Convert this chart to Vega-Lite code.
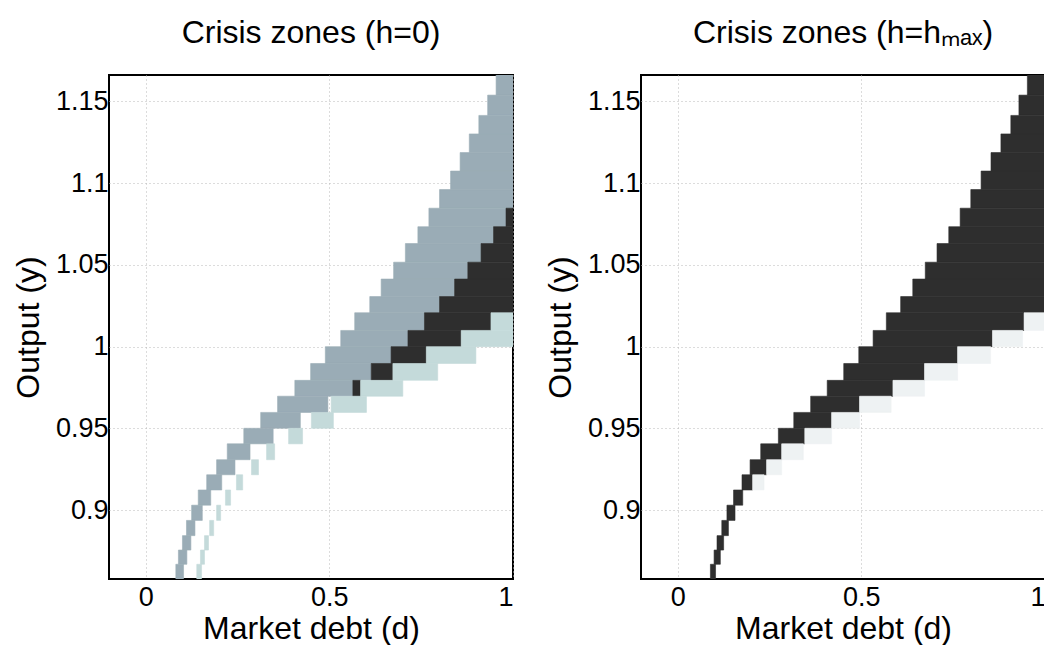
{
  "$schema": "https://vega.github.io/schema/vega-lite/v6.json",
  "background": "white",
  "padding": {"left": 11, "top": 16, "right": 0, "bottom": 0},
  "bounds": "flush",
  "spacing": 128,
  "config": {
    "font": "Liberation Sans",
    "view": {"stroke": "black", "strokeWidth": 2},
    "axis": {"grid": true, "gridColor": "#b8b8b8", "gridDash": [1, 3], "gridWidth": 1, "domain": false, "ticks": false, "labelFontSize": 27, "titleFontSize": 32, "labelColor": "black", "titleColor": "black", "titleFontWeight": "normal", "labelFont": "Liberation Sans", "titleFont": "Liberation Sans"},
    "title": {"fontSize": 32, "fontWeight": "normal", "font": "Liberation Sans", "color": "black", "offset": 25}
  },
  "datasets": {
    "h0": [
      {"z": "gray", "d0": 0.954, "d1": 1, "y0": 1.1537, "y1": 1.17},
      {"z": "gray", "d0": 0.931, "d1": 1, "y0": 1.1413, "y1": 1.1537},
      {"z": "gray", "d0": 0.907, "d1": 1, "y0": 1.13, "y1": 1.1413},
      {"z": "gray", "d0": 0.881, "d1": 1, "y0": 1.1186, "y1": 1.13},
      {"z": "gray", "d0": 0.856, "d1": 1, "y0": 1.1073, "y1": 1.1186},
      {"z": "gray", "d0": 0.83, "d1": 1, "y0": 1.096, "y1": 1.1073},
      {"z": "gray", "d0": 0.8, "d1": 1, "y0": 1.0846, "y1": 1.096},
      {"z": "gray", "d0": 0.771, "d1": 0.981, "y0": 1.0733, "y1": 1.0846},
      {"z": "black", "d0": 0.981, "d1": 1, "y0": 1.0733, "y1": 1.0846},
      {"z": "gray", "d0": 0.741, "d1": 0.947, "y0": 1.063, "y1": 1.0733},
      {"z": "black", "d0": 0.947, "d1": 1, "y0": 1.063, "y1": 1.0733},
      {"z": "gray", "d0": 0.707, "d1": 0.913, "y0": 1.0516, "y1": 1.063},
      {"z": "black", "d0": 0.913, "d1": 1, "y0": 1.0516, "y1": 1.063},
      {"z": "gray", "d0": 0.675, "d1": 0.877, "y0": 1.0413, "y1": 1.0516},
      {"z": "black", "d0": 0.877, "d1": 1, "y0": 1.0413, "y1": 1.0516},
      {"z": "gray", "d0": 0.641, "d1": 0.841, "y0": 1.0306, "y1": 1.0413},
      {"z": "black", "d0": 0.841, "d1": 1, "y0": 1.0306, "y1": 1.0413},
      {"z": "gray", "d0": 0.61, "d1": 0.8, "y0": 1.0207, "y1": 1.0306},
      {"z": "black", "d0": 0.8, "d1": 1, "y0": 1.0207, "y1": 1.0306},
      {"z": "gray", "d0": 0.569, "d1": 0.759, "y0": 1.0099, "y1": 1.0207},
      {"z": "black", "d0": 0.759, "d1": 0.94, "y0": 1.0099, "y1": 1.0207},
      {"z": "teal", "d0": 0.94, "d1": 1, "y0": 1.0099, "y1": 1.0207},
      {"z": "gray", "d0": 0.531, "d1": 0.714, "y0": 1.0, "y1": 1.0099},
      {"z": "black", "d0": 0.714, "d1": 0.859, "y0": 1.0, "y1": 1.0099},
      {"z": "teal", "d0": 0.859, "d1": 1, "y0": 1.0, "y1": 1.0099},
      {"z": "gray", "d0": 0.489, "d1": 0.668, "y0": 0.9897, "y1": 1.0},
      {"z": "black", "d0": 0.668, "d1": 0.764, "y0": 0.9897, "y1": 1.0},
      {"z": "teal", "d0": 0.764, "d1": 0.899, "y0": 0.9897, "y1": 1.0},
      {"z": "gray", "d0": 0.449, "d1": 0.614, "y0": 0.9794, "y1": 0.9897},
      {"z": "black", "d0": 0.614, "d1": 0.673, "y0": 0.9794, "y1": 0.9897},
      {"z": "teal", "d0": 0.673, "d1": 0.795, "y0": 0.9794, "y1": 0.9897},
      {"z": "gray", "d0": 0.406, "d1": 0.564, "y0": 0.9697, "y1": 0.9794},
      {"z": "black", "d0": 0.564, "d1": 0.585, "y0": 0.9697, "y1": 0.9794},
      {"z": "teal", "d0": 0.585, "d1": 0.7, "y0": 0.9697, "y1": 0.9794},
      {"z": "gray", "d0": 0.359, "d1": 0.496, "y0": 0.9598, "y1": 0.9697},
      {"z": "teal", "d0": 0.505, "d1": 0.601, "y0": 0.9598, "y1": 0.9697},
      {"z": "gray", "d0": 0.313, "d1": 0.421, "y0": 0.9501, "y1": 0.9598},
      {"z": "teal", "d0": 0.451, "d1": 0.511, "y0": 0.9501, "y1": 0.9598},
      {"z": "gray", "d0": 0.267, "d1": 0.347, "y0": 0.9406, "y1": 0.9501},
      {"z": "teal", "d0": 0.389, "d1": 0.427, "y0": 0.9406, "y1": 0.9501},
      {"z": "gray", "d0": 0.222, "d1": 0.284, "y0": 0.9309, "y1": 0.9406},
      {"z": "teal", "d0": 0.329, "d1": 0.351, "y0": 0.9309, "y1": 0.9406},
      {"z": "gray", "d0": 0.193, "d1": 0.243, "y0": 0.9217, "y1": 0.9309},
      {"z": "teal", "d0": 0.288, "d1": 0.307, "y0": 0.9217, "y1": 0.9309},
      {"z": "gray", "d0": 0.166, "d1": 0.207, "y0": 0.9124, "y1": 0.9217},
      {"z": "teal", "d0": 0.247, "d1": 0.264, "y0": 0.9124, "y1": 0.9217},
      {"z": "gray", "d0": 0.143, "d1": 0.177, "y0": 0.9031, "y1": 0.9124},
      {"z": "teal", "d0": 0.217, "d1": 0.231, "y0": 0.9031, "y1": 0.9124},
      {"z": "gray", "d0": 0.125, "d1": 0.154, "y0": 0.8938, "y1": 0.9031},
      {"z": "teal", "d0": 0.193, "d1": 0.204, "y0": 0.8938, "y1": 0.9031},
      {"z": "gray", "d0": 0.111, "d1": 0.134, "y0": 0.8845, "y1": 0.8938},
      {"z": "teal", "d0": 0.174, "d1": 0.185, "y0": 0.8845, "y1": 0.8938},
      {"z": "gray", "d0": 0.1, "d1": 0.123, "y0": 0.8757, "y1": 0.8845},
      {"z": "teal", "d0": 0.16, "d1": 0.171, "y0": 0.8757, "y1": 0.8845},
      {"z": "gray", "d0": 0.089, "d1": 0.112, "y0": 0.867, "y1": 0.8757},
      {"z": "teal", "d0": 0.149, "d1": 0.16, "y0": 0.867, "y1": 0.8757},
      {"z": "gray", "d0": 0.082, "d1": 0.103, "y0": 0.855, "y1": 0.867},
      {"z": "teal", "d0": 0.139, "d1": 0.152, "y0": 0.855, "y1": 0.867}
    ],
    "hmax": [
      {"z": "black", "d0": 0.952, "d1": 1, "y0": 1.1537, "y1": 1.17},
      {"z": "black", "d0": 0.929, "d1": 1, "y0": 1.1413, "y1": 1.1537},
      {"z": "black", "d0": 0.907, "d1": 1, "y0": 1.13, "y1": 1.1413},
      {"z": "black", "d0": 0.88, "d1": 1, "y0": 1.1186, "y1": 1.13},
      {"z": "black", "d0": 0.853, "d1": 1, "y0": 1.1073, "y1": 1.1186},
      {"z": "black", "d0": 0.826, "d1": 1, "y0": 1.096, "y1": 1.1073},
      {"z": "black", "d0": 0.798, "d1": 1, "y0": 1.0846, "y1": 1.096},
      {"z": "black", "d0": 0.769, "d1": 1, "y0": 1.0733, "y1": 1.0846},
      {"z": "black", "d0": 0.738, "d1": 1, "y0": 1.063, "y1": 1.0733},
      {"z": "black", "d0": 0.706, "d1": 1, "y0": 1.0516, "y1": 1.063},
      {"z": "black", "d0": 0.674, "d1": 1, "y0": 1.0413, "y1": 1.0516},
      {"z": "black", "d0": 0.64, "d1": 1, "y0": 1.0306, "y1": 1.0413},
      {"z": "black", "d0": 0.607, "d1": 1, "y0": 1.0207, "y1": 1.0306},
      {"z": "black", "d0": 0.568, "d1": 0.943, "y0": 1.0099, "y1": 1.0207},
      {"z": "faint", "d0": 0.943, "d1": 1, "y0": 1.0099, "y1": 1.0207},
      {"z": "black", "d0": 0.532, "d1": 0.857, "y0": 1.0, "y1": 1.0099},
      {"z": "faint", "d0": 0.857, "d1": 0.939, "y0": 1.0, "y1": 1.0099},
      {"z": "black", "d0": 0.493, "d1": 0.762, "y0": 0.9897, "y1": 1.0},
      {"z": "faint", "d0": 0.762, "d1": 0.852, "y0": 0.9897, "y1": 1.0},
      {"z": "black", "d0": 0.452, "d1": 0.672, "y0": 0.9794, "y1": 0.9897},
      {"z": "faint", "d0": 0.672, "d1": 0.762, "y0": 0.9794, "y1": 0.9897},
      {"z": "black", "d0": 0.407, "d1": 0.586, "y0": 0.9697, "y1": 0.9794},
      {"z": "faint", "d0": 0.586, "d1": 0.672, "y0": 0.9697, "y1": 0.9794},
      {"z": "black", "d0": 0.362, "d1": 0.495, "y0": 0.9598, "y1": 0.9697},
      {"z": "faint", "d0": 0.495, "d1": 0.581, "y0": 0.9598, "y1": 0.9697},
      {"z": "black", "d0": 0.316, "d1": 0.419, "y0": 0.9501, "y1": 0.9598},
      {"z": "faint", "d0": 0.419, "d1": 0.495, "y0": 0.9501, "y1": 0.9598},
      {"z": "black", "d0": 0.274, "d1": 0.346, "y0": 0.9406, "y1": 0.9501},
      {"z": "faint", "d0": 0.346, "d1": 0.419, "y0": 0.9406, "y1": 0.9501},
      {"z": "black", "d0": 0.226, "d1": 0.283, "y0": 0.9309, "y1": 0.9406},
      {"z": "faint", "d0": 0.283, "d1": 0.342, "y0": 0.9309, "y1": 0.9406},
      {"z": "black", "d0": 0.197, "d1": 0.242, "y0": 0.9217, "y1": 0.9309},
      {"z": "faint", "d0": 0.242, "d1": 0.283, "y0": 0.9217, "y1": 0.9309},
      {"z": "black", "d0": 0.175, "d1": 0.204, "y0": 0.9124, "y1": 0.9217},
      {"z": "faint", "d0": 0.204, "d1": 0.235, "y0": 0.9124, "y1": 0.9217},
      {"z": "black", "d0": 0.152, "d1": 0.177, "y0": 0.9031, "y1": 0.9124},
      {"z": "black", "d0": 0.134, "d1": 0.156, "y0": 0.8938, "y1": 0.9031},
      {"z": "black", "d0": 0.12, "d1": 0.138, "y0": 0.8845, "y1": 0.8938},
      {"z": "black", "d0": 0.107, "d1": 0.125, "y0": 0.8757, "y1": 0.8845},
      {"z": "black", "d0": 0.099, "d1": 0.116, "y0": 0.867, "y1": 0.8757},
      {"z": "black", "d0": 0.089, "d1": 0.103, "y0": 0.855, "y1": 0.867}
    ]
  },
  "hconcat": [
    {
      "width": 404,
      "height": 504,
      "title": {"text": "Crisis zones (h=0)"},
      "data": {"name": "h0"},
      "mark": {"type": "rect", "clip": true, "strokeWidth": 0.6},
      "encoding": {
        "x": {"field": "d0", "type": "quantitative", "scale": {"domain": [-0.1, 1], "nice": false, "zero": false}, "axis": {"values": [0, 0.5, 1], "format": "~g", "title": "Market debt (d)", "labelPadding": 5, "titlePadding": 3}},
        "x2": {"field": "d1"},
        "y": {"field": "y0", "type": "quantitative", "scale": {"domain": [0.858, 1.166], "nice": false, "zero": false}, "axis": {"values": [0.9, 0.95, 1, 1.05, 1.1, 1.15], "format": "~g", "title": "Output (y)", "labelPadding": 1, "titlePadding": 10}},
        "y2": {"field": "y1"},
        "color": {"field": "z", "type": "nominal", "scale": {"domain": ["gray", "black", "teal", "faint"], "range": ["#9aacb6", "#2e2e2e", "#c4dada", "#eef2f3"]}, "legend": null},
        "stroke": {"field": "z", "type": "nominal", "scale": {"domain": ["gray", "black", "teal", "faint"], "range": ["#9aacb6", "#2e2e2e", "#c4dada", "#eef2f3"]}, "legend": null}
      }
    },
    {
      "width": 404,
      "height": 504,
      "title": {"text": "Crisis zones (h=hₘₐₓ)"},
      "data": {"name": "hmax"},
      "mark": {"type": "rect", "clip": true, "strokeWidth": 0.6},
      "encoding": {
        "x": {"field": "d0", "type": "quantitative", "scale": {"domain": [-0.1, 1], "nice": false, "zero": false}, "axis": {"values": [0, 0.5, 1], "format": "~g", "title": "Market debt (d)", "labelPadding": 5, "titlePadding": 3}},
        "x2": {"field": "d1"},
        "y": {"field": "y0", "type": "quantitative", "scale": {"domain": [0.858, 1.166], "nice": false, "zero": false}, "axis": {"values": [0.9, 0.95, 1, 1.05, 1.1, 1.15], "format": "~g", "title": "Output (y)", "labelPadding": 1, "titlePadding": 10}},
        "y2": {"field": "y1"},
        "color": {"field": "z", "type": "nominal", "scale": {"domain": ["gray", "black", "teal", "faint"], "range": ["#9aacb6", "#2e2e2e", "#c4dada", "#eef2f3"]}, "legend": null},
        "stroke": {"field": "z", "type": "nominal", "scale": {"domain": ["gray", "black", "teal", "faint"], "range": ["#9aacb6", "#2e2e2e", "#c4dada", "#eef2f3"]}, "legend": null}
      }
    }
  ]
}
